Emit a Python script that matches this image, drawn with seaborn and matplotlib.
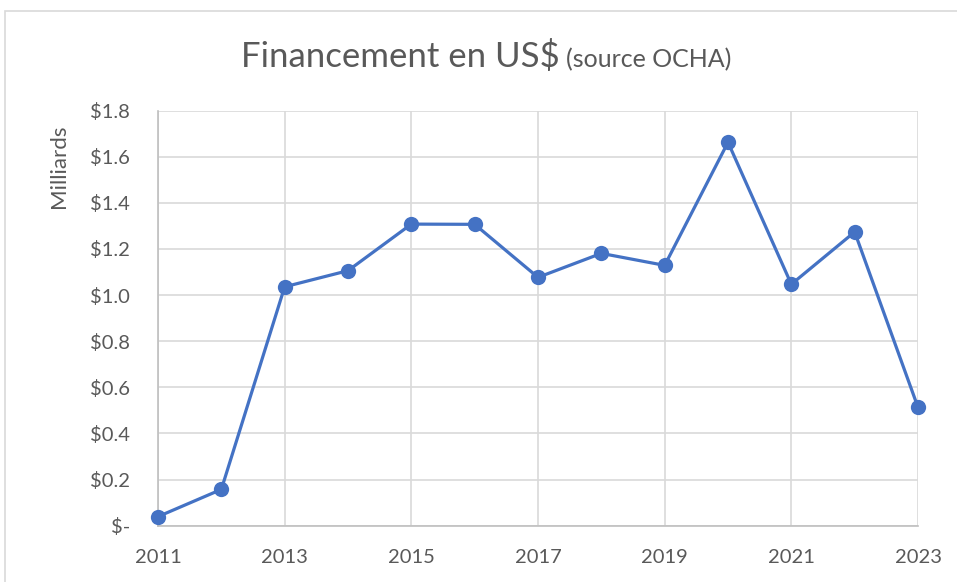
import matplotlib
matplotlib.use("Agg")
import matplotlib.pyplot as plt
import matplotlib.patches as mpatches
import seaborn as sns
import pandas as pd

years = [2011, 2012, 2013, 2014, 2015, 2016, 2017, 2018, 2019, 2020, 2021, 2022, 2023]
funding_bn = [0.039, 0.157, 1.036, 1.106, 1.308, 1.307, 1.077, 1.181, 1.129, 1.663, 1.047, 1.274, 0.513]
x_ticks = [2011, 2013, 2015, 2017, 2019, 2021, 2023]
y_ticks = [0.0, 0.2, 0.4, 0.6, 0.8, 1.0, 1.2, 1.4, 1.6, 1.8]
y_ticklabels = ["$-", "$0.2", "$0.4", "$0.6", "$0.8", "$1.0", "$1.2", "$1.4", "$1.6", "$1.8"]
title_main = "Financement en US$"
title_sub = "(source OCHA)"
y_label = "Milliards"

df = pd.DataFrame({"year": years, "funding": funding_bn})

sns.set_style("white")
plt.rcParams["font.family"] = ["Lato", "DejaVu Sans"]

fig = plt.figure(figsize=(9.57, 5.82), dpi=100)
ax = fig.add_axes([158 / 957, 1 - 525.6 / 582, (918 - 158) / 957, (525.6 - 110.7) / 582])

line_color = "#4472C4"
sns.lineplot(data=df, x="year", y="funding", ax=ax, color=line_color, linewidth=2.3,
             marker="o", markersize=11, markeredgewidth=0, clip_on=False, zorder=5)

ax.set_xlim(2011, 2023)
ax.set_ylim(0, 1.8)
ax.set_xticks(x_ticks)
ax.set_xticklabels([str(t) for t in x_ticks])
ax.set_yticks(y_ticks)
ax.set_yticklabels(y_ticklabels)
ax.grid(True, color="#D9D9D9", linewidth=1.2)
ax.set_axisbelow(True)
for s in ["top", "right"]:
    ax.spines[s].set_visible(False)
for s in ["left", "bottom"]:
    ax.spines[s].set_color("#BFBFBF")
    ax.spines[s].set_linewidth(1.2)
ax.tick_params(axis="x", length=0, pad=17, labelsize=14.5, labelcolor="#595959")
ax.tick_params(axis="y", length=0, pad=20, labelsize=14.5, labelcolor="#595959")
ax.set_xlabel("")
ax.set_ylabel("")

fig.text(59 / 957, 1 - 166 / 582, y_label, rotation=90, ha="center", va="center",
         fontsize=16, color="#595959")

fig.text(560 / 957, 1 - 67 / 582, title_main, ha="right", va="baseline",
         fontsize=25, color="#595959")
fig.text(566 / 957, 1 - 67 / 582, title_sub, ha="left", va="baseline",
         fontsize=18, color="#595959")

fig.patches.append(mpatches.Rectangle((5 / 957, -0.1), 1.2, 1 - 11 / 582 + 0.1,
                                      transform=fig.transFigure, fill=False,
                                      edgecolor="#D9D9D9", linewidth=1.2))

fig.savefig("out.png", dpi=100)
